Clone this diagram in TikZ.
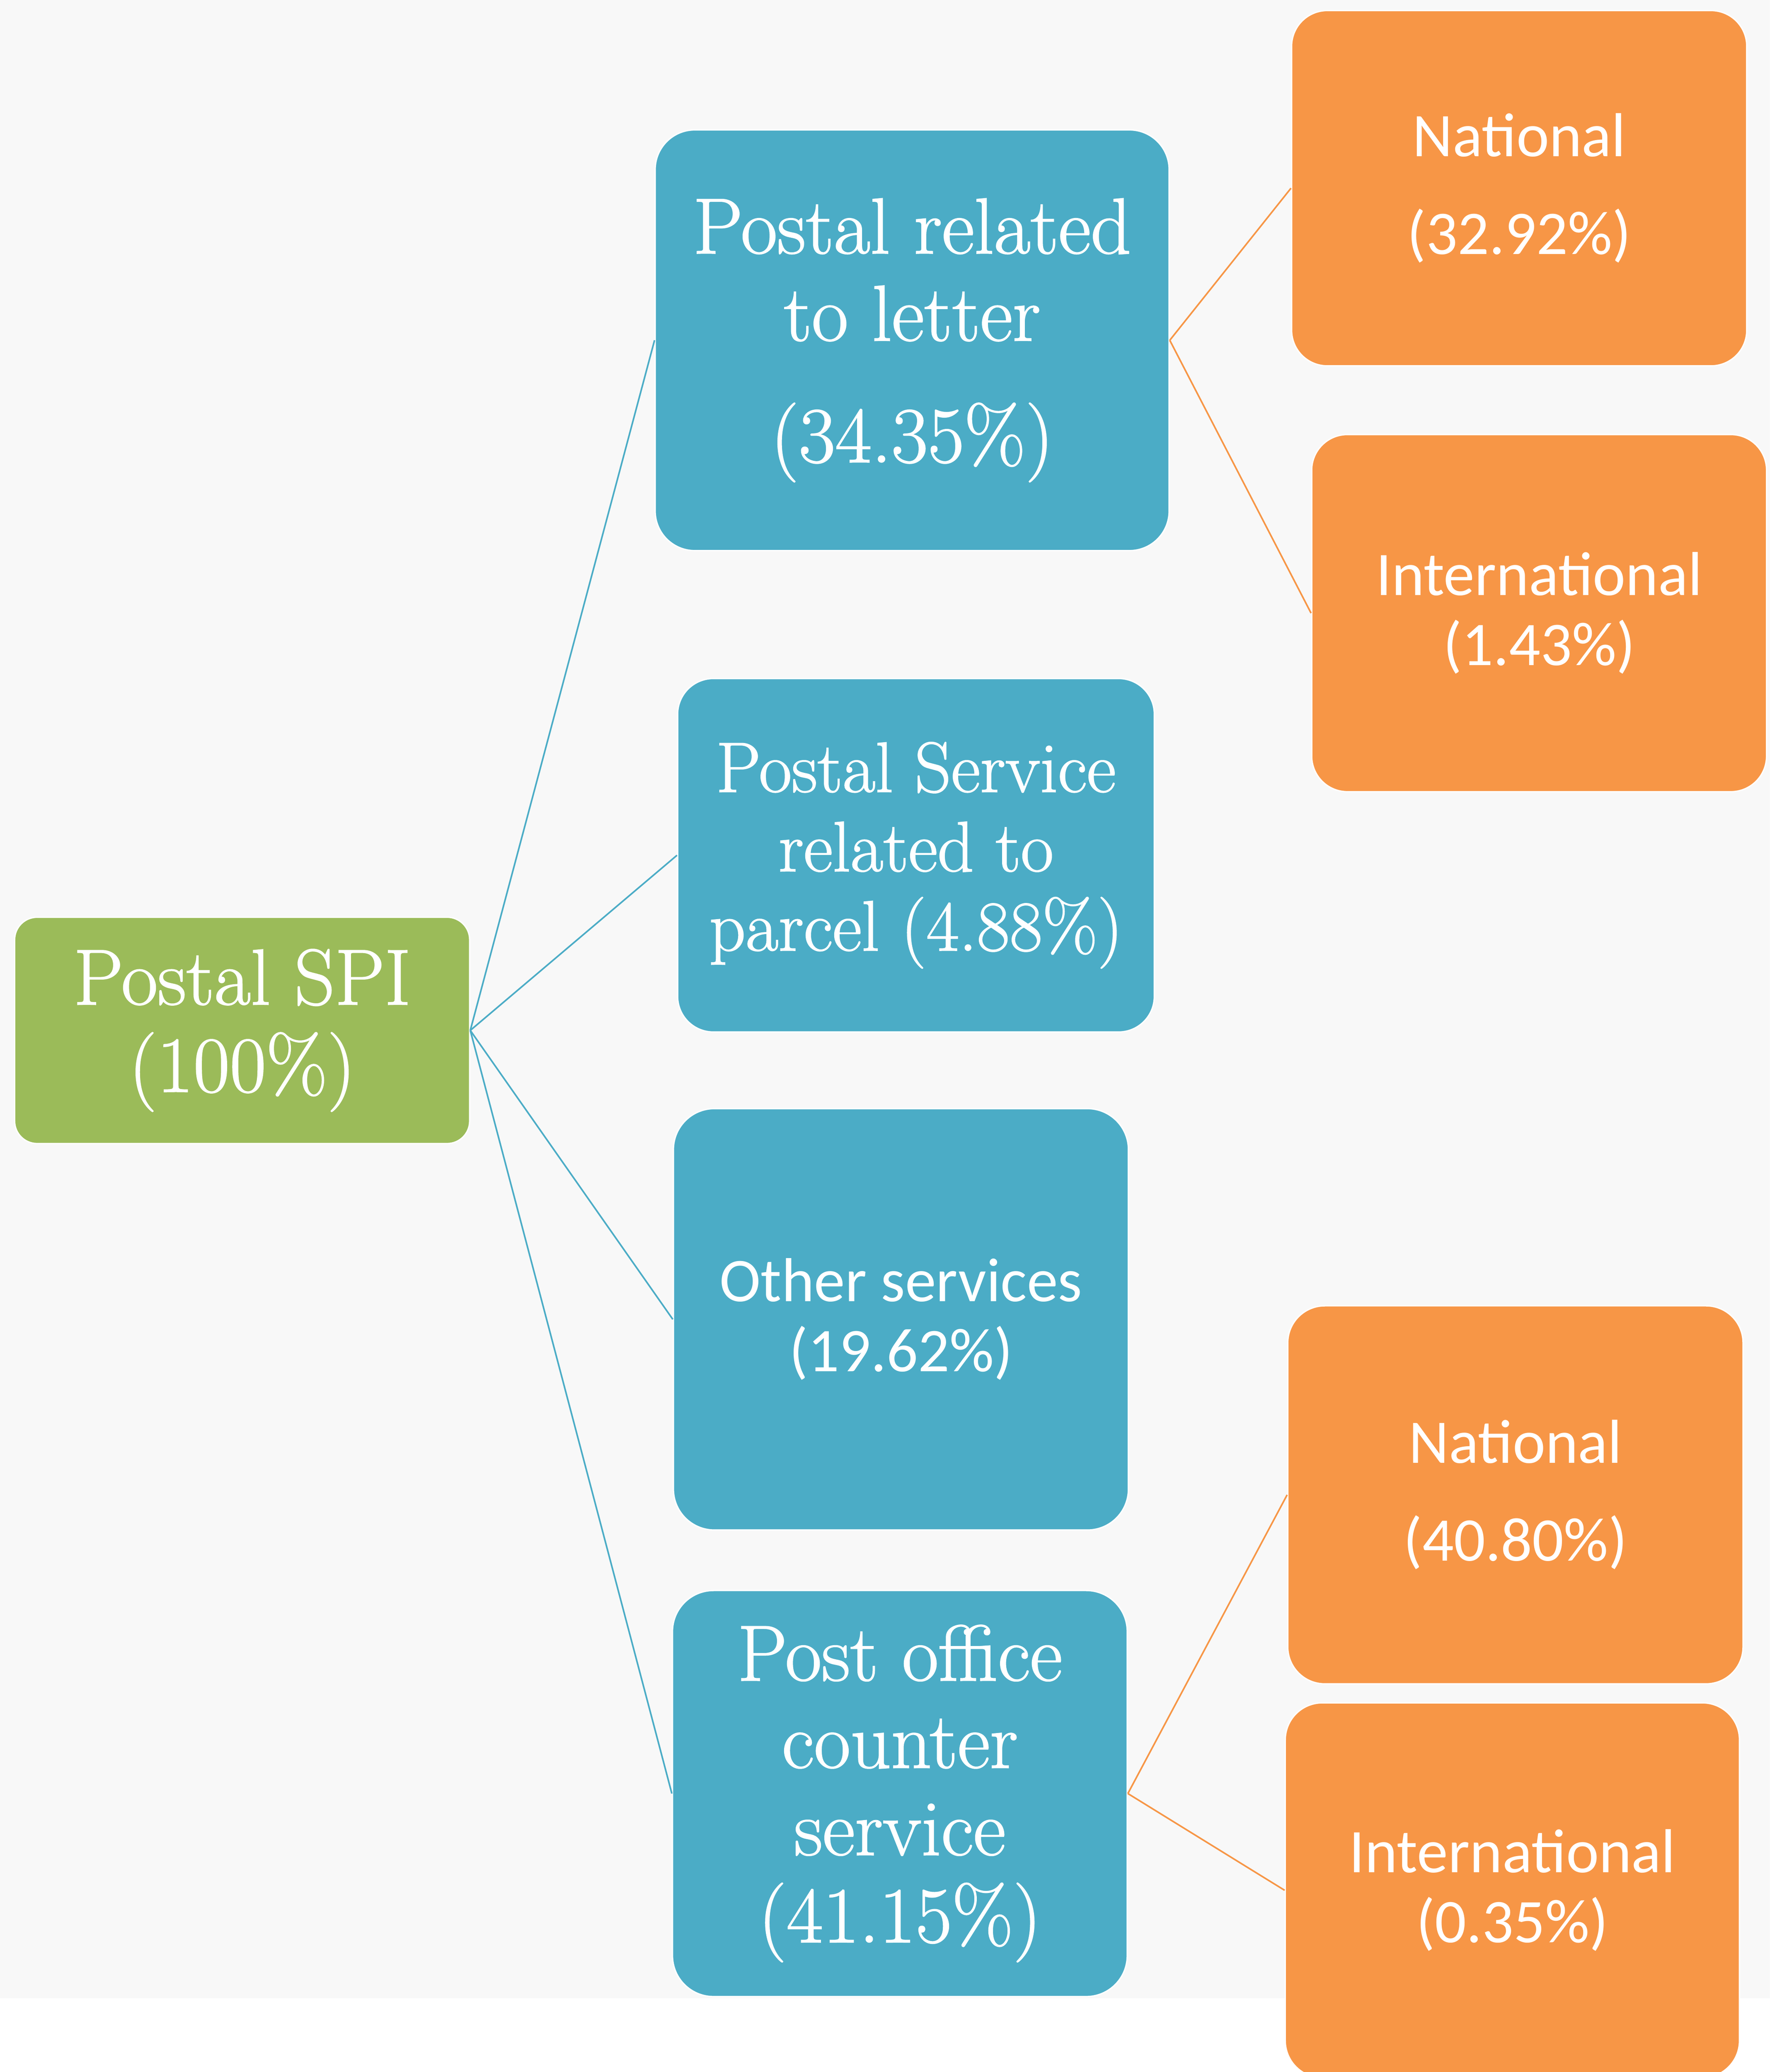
\documentclass[tikz,border=0pt]{standalone}
\usepackage{fontspec}
\newfontfamily\serifx{Latin Modern Roman}[FakeBold=1.2]
\newfontfamily\sansx{Carlito}
\definecolor{spiblue}{HTML}{4BACC6}
\definecolor{spiorange}{HTML}{F79646}
\definecolor{spigreen}{HTML}{9BBB59}
\definecolor{bgpat}{HTML}{F8F8F8}
\tikzset{
  card/.style={rectangle, draw=white, line width=1pt, text=white, align=center, inner sep=0pt},
  greencard/.style={card, fill=spigreen},
  bluecard/.style={card, fill=spiblue},
  orangecard/.style={card, fill=spiorange},
  seriflarge/.style={font=\serifx\fontsize{60}{66}\selectfont},
  serifmid/.style={font=\serifx\fontsize{54}{60}\selectfont},
  sanstext/.style={font=\sansx\fontsize{47}{53}\selectfont},
  blueline/.style={draw=spiblue, line width=1.2pt},
  orangeline/.style={draw=spiorange, line width=1.2pt}
}
\begin{document}
\begin{tikzpicture}[x=1pt,y=-1pt]
\clip (0,0) rectangle (1339,1567.7);
\fill[bgpat] (0,0) rectangle (1339,1512);

\node[greencard, seriflarge, minimum width=344.2pt, minimum height=171.2pt, rounded corners=17pt]
  (spi) at (183.2,779.6) {Postal SPI\\(100\%)};

\node[bluecard, seriflarge, minimum width=388.8pt, minimum height=318.3pt, rounded corners=30pt]
  (letter) at (690.1,257.45) {Postal related\\to letter\\[26pt](34.35\%)};
\node[bluecard, serifmid, minimum width=360.6pt, minimum height=267.4pt, rounded corners=27pt]
  (parcel) at (693,647.1) {Postal Service\\related to\\parcel (4.88\%)};
\node[bluecard, sanstext, minimum width=344.2pt, minimum height=318.8pt, rounded corners=31pt]
  (other) at (681.6,998.2) {Other services\\(19.62\%)};
\node[bluecard, seriflarge, minimum width=344pt, minimum height=307.2pt, rounded corners=31pt]
  (counter) at (680.8,1357) {Post office\\counter\\service\\(41.15\%)};

\node[orangecard, sanstext, minimum width=344.3pt, minimum height=268.8pt, rounded corners=27pt]
  (nat1) at (1149.35,142.4) {National\\[21pt](32.92\%)};
\node[orangecard, sanstext, minimum width=344.1pt, minimum height=270.2pt, rounded corners=27pt]
  (int1) at (1164.45,463.9) {International\\(1.43\%)};
\node[orangecard, sanstext, minimum width=344.4pt, minimum height=286pt, rounded corners=28pt]
  (nat2) at (1146.5,1131) {National\\[21pt](40.80\%)};
\node[orangecard, sanstext, minimum width=343.6pt, minimum height=283.6pt, rounded corners=28pt]
  (int2) at (1144.2,1430.2) {International\\(0.35\%)};

\draw[blueline] (spi.east) -- (letter.west);
\draw[blueline] (spi.east) -- (parcel.west);
\draw[blueline] (spi.east) -- (other.west);
\draw[blueline] (spi.east) -- (counter.west);
\draw[orangeline] (letter.east) -- (nat1.west);
\draw[orangeline] (letter.east) -- (int1.west);
\draw[orangeline] (counter.east) -- (nat2.west);
\draw[orangeline] (counter.east) -- (int2.west);
\end{tikzpicture}
\end{document}
